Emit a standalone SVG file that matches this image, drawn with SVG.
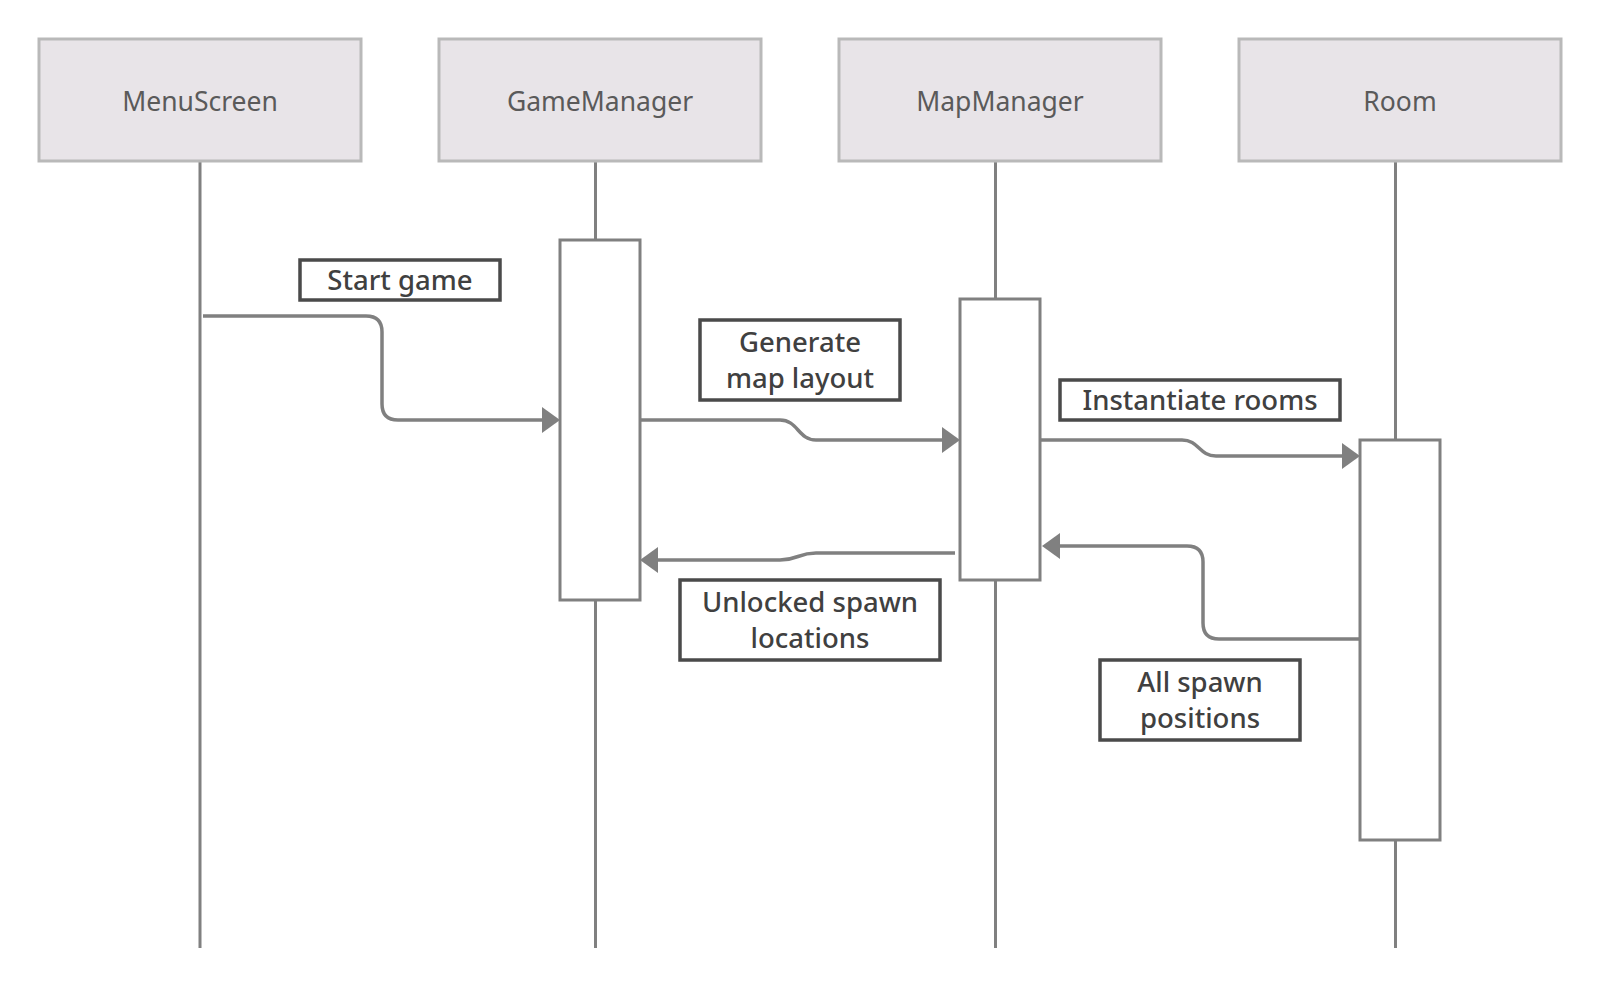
<svg xmlns="http://www.w3.org/2000/svg" width="1600" height="988" viewBox="0 0 1600 988">
<style>
.head{fill:#e8e4e8;stroke:#b9b9b9;stroke-width:3}
.htxt{font-family:"Noto Sans","Open Sans",sans-serif;font-size:26.5px;fill:#5a5a5a;text-anchor:middle}
.life{stroke:#808080;stroke-width:3;fill:none}
.act{fill:#ffffff;stroke:#808080;stroke-width:3}
.lbl{fill:#ffffff;stroke:#4a4a4a;stroke-width:3.5}
.ltxt{font-family:"Noto Sans","Open Sans",sans-serif;font-size:27.5px;font-weight:500;fill:#404040;text-anchor:middle}
.conn{stroke:#808080;stroke-width:3.5;fill:none}
.arr{fill:#808080}
</style>
<rect width="1600" height="988" fill="#ffffff"/>
<g id="lifelines">
<line class="life" x1="200" y1="161" x2="200" y2="948"/>
<line class="life" x1="595.5" y1="161" x2="595.5" y2="948"/>
<line class="life" x1="995.5" y1="161" x2="995.5" y2="948"/>
<line class="life" x1="1395.5" y1="161" x2="1395.5" y2="948"/>
</g>
<g id="MenuScreen"><rect class="head" x="39" y="39" width="322" height="122"/><text class="htxt" x="200" y="111">MenuScreen</text></g>
<g id="GameManager"><rect class="head" x="439" y="39" width="322" height="122"/><text class="htxt" x="600" y="111">GameManager</text></g>
<g id="MapManager"><rect class="head" x="839" y="39" width="322" height="122"/><text class="htxt" x="1000" y="111">MapManager</text></g>
<g id="Room"><rect class="head" x="1239" y="39" width="322" height="122"/><text class="htxt" x="1400" y="111">Room</text></g>
<g id="act-GameManager"><rect class="act" x="560" y="240" width="80" height="360"/></g>
<g id="act-MapManager"><rect class="act" x="960" y="299" width="80" height="281"/></g>
<g id="act-Room"><rect class="act" x="1360" y="440" width="80" height="400"/></g>
<g id="connectors">
<path class="conn" d="M203 316 H366 Q382 316 382 332 V404 Q382 420 398 420 H546"/>
<polygon class="arr" points="542,407 560,420 542,433"/>
<path class="conn" d="M641 420 H780 C798 420 798 440 816 440 H946"/>
<polygon class="arr" points="942,427 960,440 942,453"/>
<path class="conn" d="M1041 440 H1182 C1199 440 1199 456 1216 456 H1346"/>
<polygon class="arr" points="1342,443 1360,456 1342,469"/>
<path class="conn" d="M955 553 H816 C798 553 798 560 780 560 H654"/>
<polygon class="arr" points="658,547 640,560 658,573"/>
<path class="conn" d="M1360 639 H1219 Q1203 639 1203 623 V562 Q1203 546 1187 546 H1056"/>
<polygon class="arr" points="1060,533 1042,546 1060,559"/>
</g>
<g id="label-start"><rect class="lbl" x="300" y="260" width="200" height="40"/><text class="ltxt" x="400" y="290">Start game</text></g>
<g id="label-generate"><rect class="lbl" x="700" y="320" width="200" height="80"/><text class="ltxt" x="800" y="352">Generate</text><text class="ltxt" x="800" y="388">map layout</text></g>
<g id="label-instantiate"><rect class="lbl" x="1060" y="380" width="280" height="40"/><text class="ltxt" x="1200" y="410">Instantiate rooms</text></g>
<g id="label-unlocked"><rect class="lbl" x="680" y="580" width="260" height="80"/><text class="ltxt" x="810" y="612">Unlocked spawn</text><text class="ltxt" x="810" y="648">locations</text></g>
<g id="label-allspawn"><rect class="lbl" x="1100" y="660" width="200" height="80"/><text class="ltxt" x="1200" y="692">All spawn</text><text class="ltxt" x="1200" y="728">positions</text></g>
</svg>
